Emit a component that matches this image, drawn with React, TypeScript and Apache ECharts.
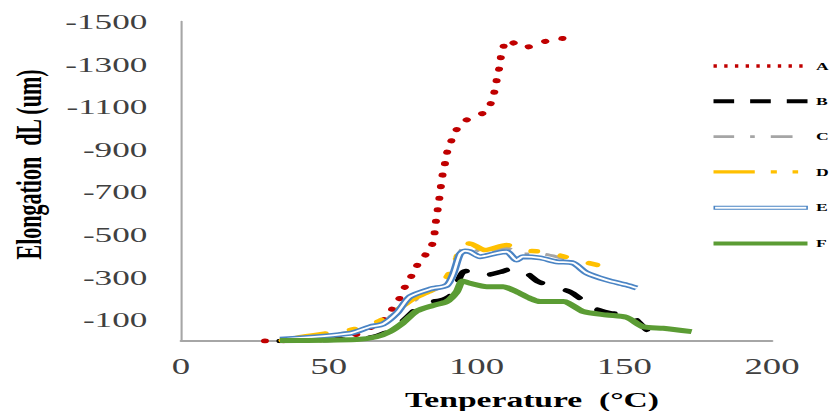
import React, { useEffect, useRef } from 'react';
import * as echarts from 'echarts';

// ---- data (temperature in °C, elongation dL in um) ----
const aTemp = [28.4, 40, 50, 57.2, 62.9, 68, 71, 73.8, 75.8, 78, 80.2, 83.2, 85.4, 86, 86.6, 87.2, 87.8, 88.3, 89.2, 90, 91.4, 93.4, 97.1, 102.9, 105.2, 106.3, 107.1, 108, 108.6, 110.7, 115.7, 121.7, 127.2, 133.1];
const aElong = [0, -3, -8, -19, -56, -89, -141, -197, -254, -305, -361, -413, -466, -535, -592, -648, -707, -765, -823, -883, -937, -995, -1042, -1075, -1127, -1185, -1244, -1300, -1362, -1413, -1376, -1399, -1423, -1411];

const bTemp = [33.5, 59.5, 66.2, 70.7, 75.1, 79.8, 84.3, 87.6, 91, 93.4, 95.5, 100.1, 103.5, 108, 112.5, 117, 121, 126.6, 131.6, 135, 138.4, 145.2, 151.9, 156.4, 158];
const bElong = [0, -9, -23, -49, -94, -153, -183, -190, -211, -268, -324, -333, -310, -324, -341, -318, -278, -254, -231, -200, -161, -131, -122, -67, -47];

const cTemp = [34.2, 57.2, 64, 69, 74.1, 79.2, 84.3, 89.3, 91.7, 93.7, 95.8, 98.5, 102.9, 110.2, 114.7, 122.1, 127.6, 133.3];
const cElong = [-2, -42, -66, -99, -146, -192, -230, -263, -324, -399, -437, -437, -408, -437, -408, -408, -394, -371];

const dTemp = [34.2, 41.3, 57.2, 64, 69, 74.1, 78.5, 84.3, 88.7, 91.4, 93.3, 94.4, 96.7, 98.5, 102.9, 110.2, 114.7, 122.1, 127.6, 133.9, 140.7];
const dElong = [-2, -20, -52, -75, -108, -155, -197, -235, -277, -333, -390, -437, -459, -455, -427, -451, -427, -419, -404, -380, -357];

const eTemp = [33.5, 57.2, 64, 68.4, 73, 77.5, 84.3, 89.9, 92, 94.4, 96.1, 97.8, 101.2, 106.8, 110.2, 113.6, 115.7, 121.5, 127.1, 132.7, 137.3, 144.1, 150.8, 154.2];
const eElong = [-8, -36, -67, -80, -131, -208, -244, -261, -310, -408, -423, -419, -396, -413, -419, -380, -396, -390, -372, -366, -319, -286, -263, -249];

const fTemp = [33.5, 59.5, 66.2, 70.7, 75.1, 79.8, 85.3, 89.9, 93.3, 95.3, 97.8, 103.5, 109, 113.6, 118.1, 121.5, 129.4, 136.1, 144.1, 150.8, 156.4, 163.2, 172.8];
const fElong = [-2, -7, -20, -44, -85, -141, -167, -185, -231, -282, -271, -255, -255, -231, -200, -185, -185, -138, -122, -111, -67, -60, -44];

const seriesNames = ['A', 'B', 'C', 'D', 'E', 'F'];
const xTickValues = [0, 50, 100, 150, 200];
const yTickValues = [-1500, -1300, -1100, -900, -700, -500, -300, -100];

const pairs = (xs: number[], ys: number[]) => xs.map((x, i) => [x, ys[i]]);

// ---- layout (drawn at W wide, then stretched horizontally by S) ----
const S = 1.6;
const W = 520;
const H = 411;
const SERIF = '"Liberation Serif", "Times New Roman", serif';

const IW = 59;
const IH = 14;
const icon = (segs: number[][], t: number) => {
  const y0 = (IH - t) / 2;
  const y1 = y0 + t;
  let d = `M0 0M${IW} ${IH}`;
  segs.forEach(([a, b]) => {
    d += `M${a} ${y0}L${b} ${y0}L${b} ${y1}L${a} ${y1}Z`;
  });
  return 'path://' + d;
};
const dots: number[][] = [];
for (let k = 0; k < 9; k++) dots.push([k * 6.7, k * 6.7 + 2.1]);

const COLORS = {
  A: '#c00000',
  B: '#000000',
  C: '#a5a5a5',
  D: '#ffc000',
  E: '#4a84c4',
  F: '#5b9c34',
};

export default function App() {
  const ref = useRef<HTMLDivElement>(null);
  useEffect(() => {
    if (!ref.current) return;
    const chart = echarts.init(ref.current, undefined, { renderer: 'svg' });
    const base = { type: 'line', symbol: 'none', smooth: 0.25, animation: false };
    chart.setOption({
      animation: false,
      backgroundColor: '#ffffff',
      grid: { left: 181 / S, right: W - 772 / S, top: 21.5, bottom: H - 341, containLabel: false },
      xAxis: {
        type: 'value',
        min: xTickValues[0],
        max: xTickValues[xTickValues.length - 1],
        interval: 50,
        axisLine: { show: true, lineStyle: { color: '#a6a6a6', width: 1.8 } },
        axisTick: { show: false },
        splitLine: { show: false },
        axisLabel: { fontFamily: SERIF, fontSize: 23, color: '#404040', margin: 14 },
      },
      yAxis: {
        type: 'value',
        inverse: true,
        min: yTickValues[0],
        max: 0,
        interval: 200,
        axisLine: { show: true, lineStyle: { color: '#a6a6a6', width: 1.3 } },
        axisTick: { show: false },
        splitLine: { show: false },
        axisLabel: {
          fontFamily: SERIF,
          fontSize: 22,
          color: '#404040',
          margin: 21,
          formatter: (v: number) => (yTickValues.indexOf(v) >= 0 ? String(v) : ''),
        },
      },
      legend: {
        orient: 'vertical',
        left: 712.7 / S,
        top: 66 - IH / 2,
        padding: 0,
        itemWidth: IW,
        itemHeight: IH,
        itemGap: 35.3 - IH,
        selectedMode: false,
        textStyle: { fontFamily: SERIF, fontSize: 11, fontWeight: 'bold', color: '#000' },
        data: [
          { name: 'A', icon: icon(dots, 3.3), itemStyle: { color: COLORS.A, borderWidth: 0 } },
          { name: 'B', icon: icon([[0, 12.9], [22.9, 35.8], [45.8, 58.75]], 4), itemStyle: { color: COLORS.B, borderWidth: 0 } },
          { name: 'C', icon: icon([[0, 12.9], [22.9, 25.8], [35.8, 49.4]], 2.7), itemStyle: { color: COLORS.C, borderWidth: 0 } },
          { name: 'D', icon: icon([[0, 25.8], [35.8, 39.6], [49.4, 52.9]], 3.3), itemStyle: { color: COLORS.D, borderWidth: 0 } },
          { name: 'E', icon: icon([[0.5, 58.5]], 3), itemStyle: { color: '#ffffff', borderColor: COLORS.E, borderWidth: 1 } },
          { name: 'F', icon: icon([[0, 58.75]], 4), itemStyle: { color: COLORS.F, borderWidth: 0 } },
        ],
      },
      graphic: [
        {
          type: 'text',
          x: 405 / S,
          y: 399.4,
          style: {
            text: 'Tenperature  (°C)',
            fontFamily: SERIF,
            fontSize: 21,
            fontWeight: 'bold',
            fill: '#000',
            align: 'left',
            verticalAlign: 'middle',
          },
        },
        {
          type: 'text',
          x: 29 / S,
          y: 164.5,
          rotation: Math.PI / 2,
          style: {
            text: 'Elongation  dL (um)',
            fontFamily: SERIF,
            fontSize: 22,
            fontWeight: 'bold',
            fill: '#000',
            align: 'center',
            verticalAlign: 'middle',
          },
        },
      ],
      series: [
        {
          ...base,
          name: seriesNames[0],
          data: pairs(aTemp, aElong),
          itemStyle: { color: COLORS.A },
          lineStyle: { color: COLORS.A, width: 5, type: [0.1, 11.5], cap: 'round' },
          z: 2,
        },
        {
          ...base,
          name: seriesNames[1],
          data: pairs(bTemp, bElong),
          itemStyle: { color: COLORS.B },
          lineStyle: { color: COLORS.B, width: 4.5, type: [11, 17], cap: 'round' },
          z: 3,
        },
        {
          ...base,
          name: seriesNames[2],
          data: pairs(cTemp, cElong),
          itemStyle: { color: COLORS.C },
          lineStyle: { color: COLORS.C, width: 3, type: [13, 10, 3, 10] },
          z: 4,
        },
        {
          ...base,
          name: seriesNames[3],
          data: pairs(dTemp, dElong),
          itemStyle: { color: COLORS.D },
          lineStyle: { color: COLORS.D, width: 4.5, type: [28, 16, 3, 16, 3, 16], cap: 'round' },
          z: 5,
        },
        {
          ...base,
          name: seriesNames[4],
          data: pairs(eTemp, eElong),
          itemStyle: { color: COLORS.E },
          lineStyle: { color: COLORS.E, width: 5 },
          z: 6,
        },
        {
          ...base,
          name: 'E-core',
          data: pairs(eTemp, eElong),
          itemStyle: { color: '#ffffff' },
          lineStyle: { color: '#ffffff', width: 1.8 },
          z: 7,
        },
        {
          ...base,
          name: seriesNames[5],
          data: pairs(fTemp, fElong),
          itemStyle: { color: COLORS.F },
          lineStyle: { color: COLORS.F, width: 5 },
          z: 8,
        },
      ],
    });
    return () => chart.dispose();
  }, []);
  return (
    <div
      ref={ref}
      style={{
        position: 'fixed',
        left: 0,
        top: 0,
        width: W,
        height: H,
        transform: `scaleX(${S})`,
        transformOrigin: '0 0',
        background: '#fff',
      }}
    />
  );
}
